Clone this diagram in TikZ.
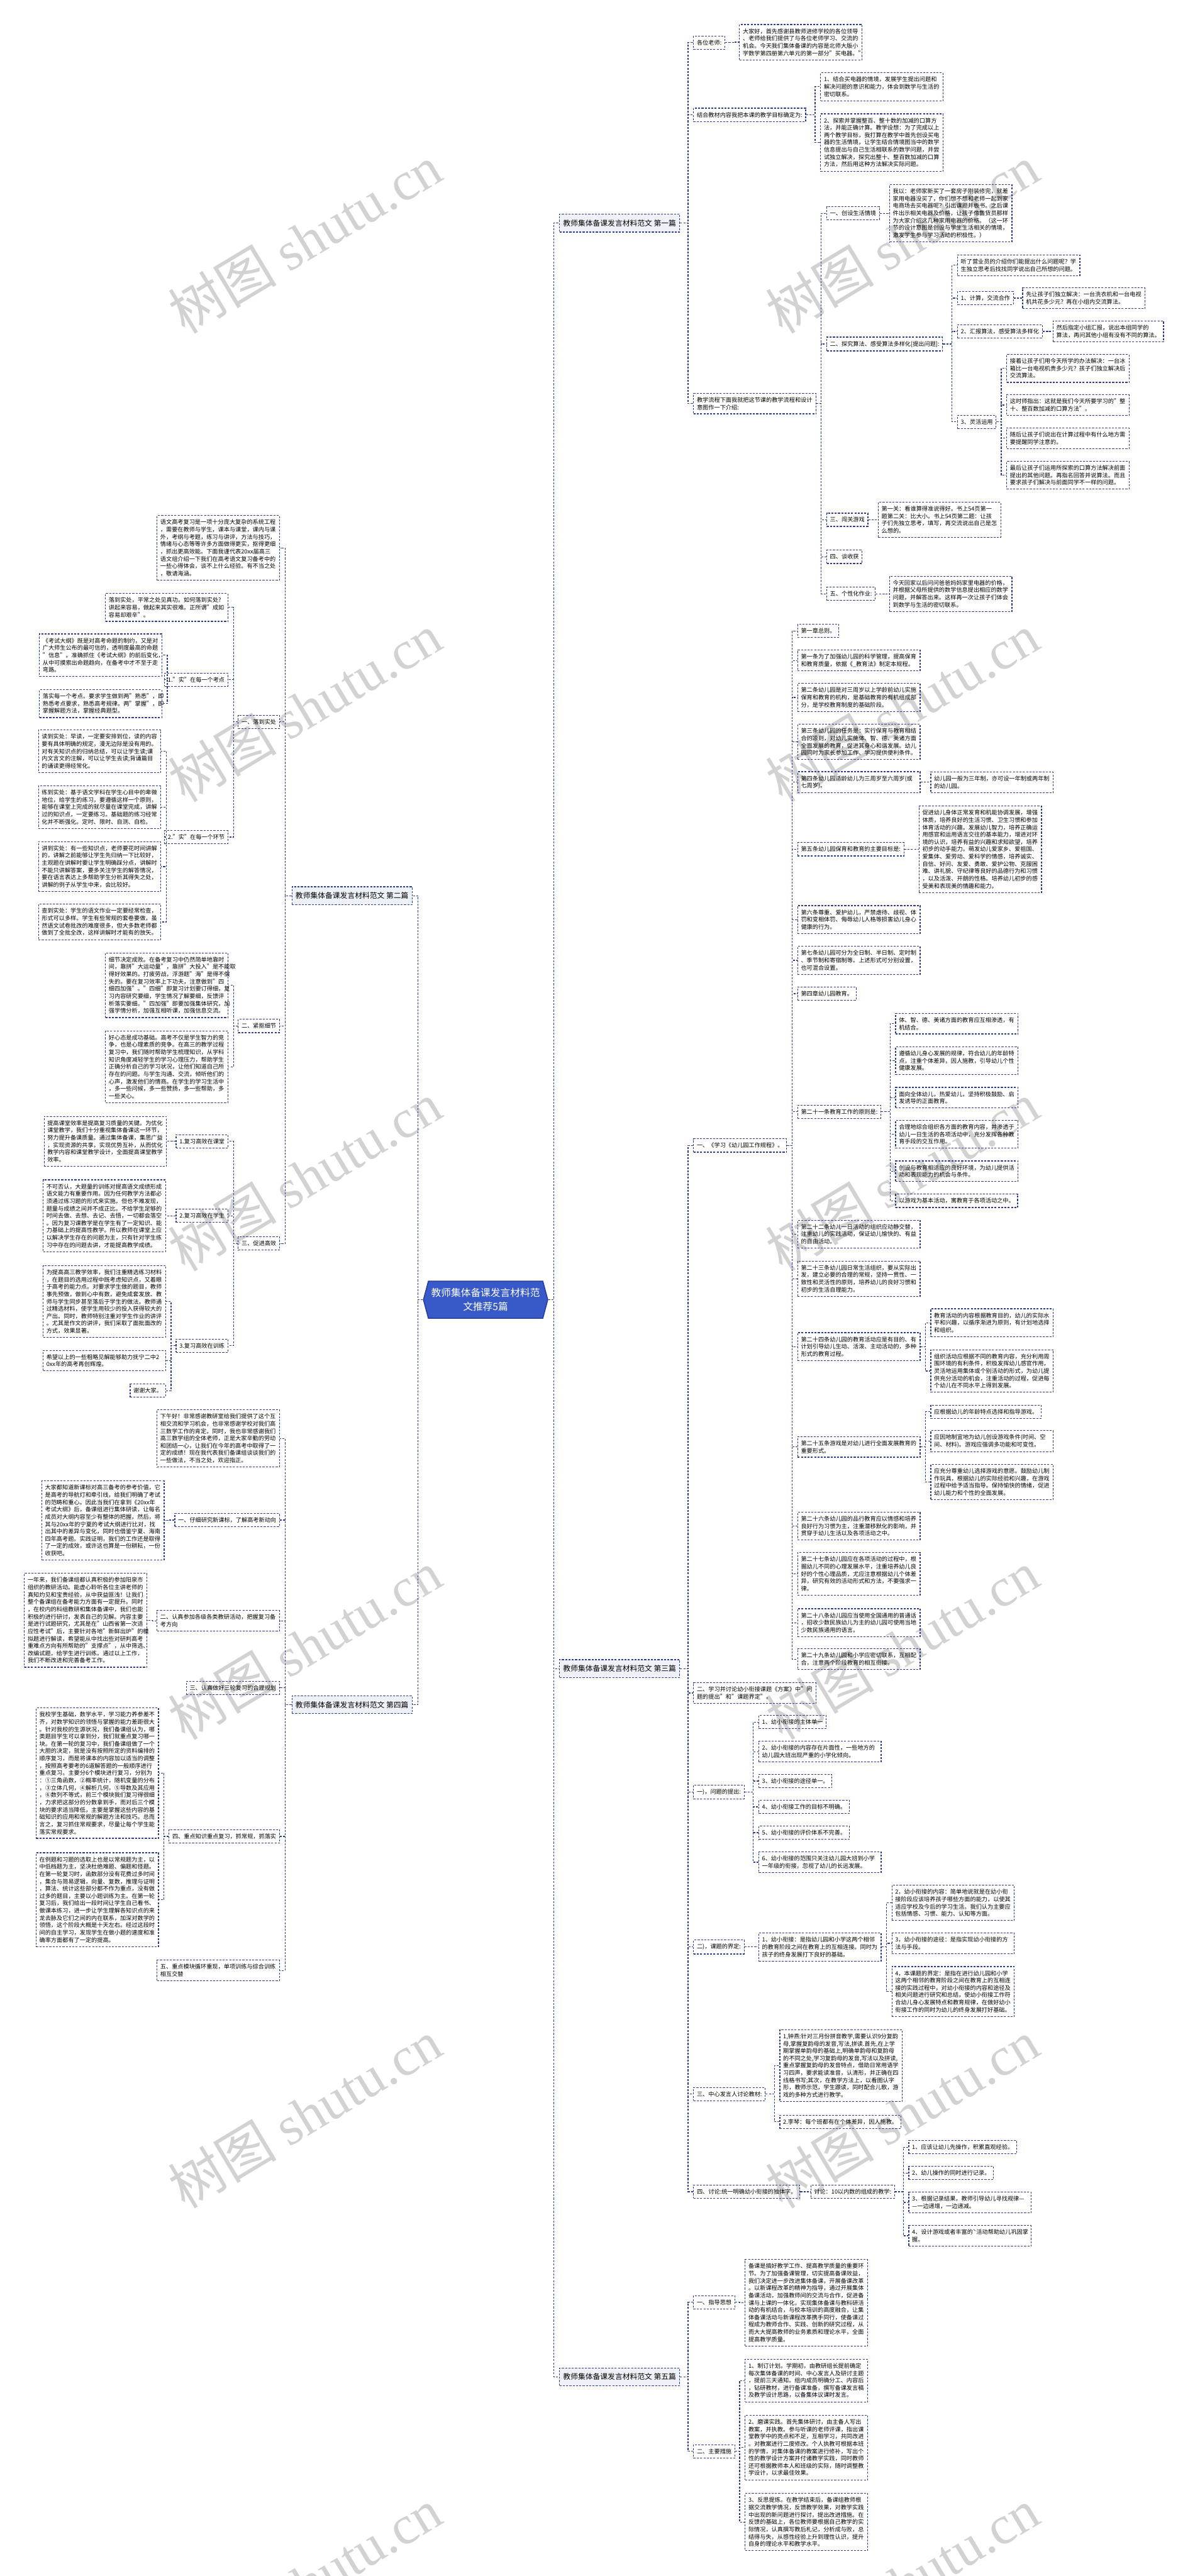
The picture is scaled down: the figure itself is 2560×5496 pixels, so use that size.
\documentclass[tikz,border=0pt]{standalone}
\usepackage{fontspec}
\setmainfont{Noto Sans CJK SC}
\newfontfamily\marklatin{Liberation Serif}
\usepackage{tikz}
\usetikzlibrary{calc,shapes.symbols}
\definecolor{linenavy}{RGB}{45,60,140}
\definecolor{rootblue}{RGB}{55,90,200}
\definecolor{rootedge}{RGB}{38,62,160}
\definecolor{titlefill}{RGB}{238,241,247}
\definecolor{markgray}{RGB}{210,210,210}
\tikzset{
  link/.style={draw=linenavy,line width=0.45pt,dash pattern=on 1.2pt off 0.8pt},
  leaf/.style={draw=linenavy,line width=0.45pt,dash pattern=on 1.2pt off 0.8pt,
    align=left,font=\fontsize{3.5pt}{4.44pt}\selectfont,inner xsep=0.07cm,inner ysep=2.4pt},
  para/.style={leaf,text width=2.47cm},
  leafr/.style={leaf,anchor=west},
  leafl/.style={leaf,anchor=east},
  parar/.style={para,anchor=west},
  paral/.style={para,anchor=east},
  topic/.style={draw=linenavy,line width=0.45pt,dash pattern=on 1.2pt off 0.8pt,fill=titlefill,
    font=\fontsize{4.5pt}{5.5pt}\selectfont,inner xsep=0.077cm,minimum height=0.36cm},
  rootnode/.style={shape=signal,signal to=east and west,signal pointer angle=150,
    fill=rootblue,draw=rootedge,line width=0.6pt,text=white,align=center,
    font=\fontsize{6pt}{8.5pt}\selectfont,inner xsep=0.06cm,minimum height=0.79cm},
  wmark/.style={rotate=31,text=markgray,font=\fontsize{33pt}{33pt}\selectfont}
}

\begin{document}
\begin{tikzpicture}[x=0.01cm,y=-0.01cm]
\useasboundingbox (0,0) rectangle (2560,5496);

% watermarks
\begin{scope}
  \clip (0,0) rectangle (2560,5496);
  \foreach \wy in {510,1510,2510,3510,4510,5510}{
    \node[wmark] (wl\wy) at (650,\wy) {树图 {\marklatin shutu.cn}};
    \node[wmark] (wr\wy) at (1925,\wy) {树图 {\marklatin shutu.cn}};
  }
\end{scope}

\node[rootnode] (root) at (1036,2773) {教师集体备课发言材料范\\文推荐5篇};

% ---- first
\node[topic,anchor=west] (b1) at (1193,476) {教师集体备课发言材料范文 第一篇};
\node[leafr] (g1) at (1479,91) {各位老师:};
\node[parar] (g1a) at (1577,90) {大家好，首先感谢县教师进修学校的各位领导\\、老师给我们提供了与各位老师学习、交流的\\机会。今天我们集体备课的内容是北师大版小\\学数学第四册第六单元的第一部分"买电器。"};
\node[leafr] (g2) at (1479,245) {结合教材内容我把本课的教学目标确定为:};
\node[parar] (g2a) at (1750,185) {1、结合买电器的情境，发展学生提出问题和\\解决问题的意识和能力，体会到数学与生活的\\密切联系。};
\node[parar] (g2b) at (1750,304) {2、探索并掌握整百、整十数的加减的口算方\\法，并能正确计算。教学设想：为了完成以上\\两个教学目标，我打算在教学中首先创设买电\\器的生活情境，让学生结合情境图当中的数学\\信息提出与自己生活相联系的数学问题，并尝\\试独立解决，探究出整十、整百数加减的口算\\方法，然后用这种方法解决实际问题。};
\node[parar] (g3) at (1479,861) {教学流程下面我就把这节课的教学流程和设计\\意图作一下介绍:};
\node[leafr] (s1) at (1763,455) {一、创设生活情境};
\node[parar] (s1a) at (1897,455) {我以：老师家新买了一套房子刚装修完，就差\\家用电器没买了，你们想不想和老师一起到家\\电商场去买电器呢？引出课题并板书。之后课\\件出示相关电器及价格，让孩子像售货员那样\\为大家介绍这几种家用电器的价格。（这一环\\节的设计意图是创设与学生生活相关的情境，\\激发学生参与学习活动的积极性。）};
\node[leafr] (s2) at (1763,734) {二、探究算法、感受算法多样化[提出问题]:};
\node[parar] (s2a) at (2042,566) {听了营业员的介绍你们能提出什么问题呢？学\\生独立思考后找找同学说出自己所想的问题。};
\node[leafr] (s2b) at (2042,636) {1、计算，交流合作};
\node[parar] (s2b1) at (2181,636) {先让孩子们独立解决：一台洗衣机和一台电视\\机共花多少元？再在小组内交流算法。};
\node[leafr] (s2c) at (2042,707) {2、汇报算法，感受算法多样化};
\node[leafr] (s2c1) at (2246,707) {然后指定小组汇报，说出本组同学的\\算法，再问其他小组有没有不同的算法。};
\node[leafr] (s2d) at (2042,900) {3、灵活运用};
\node[parar] (s2d1) at (2147,786) {接着让孩子们用今天所学的办法解决：一台冰\\箱比一台电视机贵多少元？孩子们独立解决后\\交流算法。};
\node[parar] (s2d2) at (2147,864) {这时师指出：这就是我们今天所要学习的"整\\十、整百数加减的口算方法"。};
\node[parar] (s2d3) at (2147,935) {随后让孩子们说出在计算过程中有什么地方需\\要提醒同学注意的。};
\node[parar] (s2d4) at (2147,1014) {最后让孩子们运用所探索的口算方法解决前面\\提出的其他问题。再指名回答并说算法。而且\\要求孩子们解决与前面同学不一样的问题。};
\node[leafr] (s3) at (1763,1109) {三、闯关游戏};
\node[parar] (s3a) at (1873,1109) {第一关：看谁算得准说得好。书上54页第一\\题第二关：比大小。书上54页第二题：让孩\\子们先独立思考，填写，再交流说出自己是怎\\么想的。};
\node[leafr] (s4) at (1763,1188) {四、谈收获};
\node[leafr] (s5) at (1763,1267) {五、个性化作业:};
\node[parar] (s5a) at (1897,1267) {今天回家以后问问爸爸妈妈家里电器的价格，\\并根据父母所提供的数学信息提出相应的数学\\问题，并解答出来。这样再一次让孩子们体会\\到数学与生活的密切联系。};

% ---- third
\node[topic,anchor=west] (b3) at (1193,3560) {教师集体备课发言材料范文 第三篇};
\node[leafr] (c1) at (1479,2444) {一、《学习《幼儿园工作规程》。};
\node[leafr] (c1a) at (1701,1346) {第一章总则。};
\node[parar] (c1b) at (1701,1409) {第一条为了加强幼儿园的科学管理，提高保育\\和教育质量，依据《\_教育法》制定本规程。};
\node[parar] (c1c) at (1701,1488) {第二条幼儿园是对三周岁以上学龄前幼儿实施\\保育和教育的机构，是基础教育的有机组成部\\分，是学校教育制度的基础阶段。};
\node[parar] (c1d) at (1701,1583) {第三条幼儿园的任务是：实行保育与教育相结\\合的凉则，对幼儿实施体、智、德、美诸方面\\全面发展的教育，促进其身心和谐发展。幼儿\\园同时为家长参加工作、学习提供便利条件。};
\node[parar] (c1e) at (1701,1669) {第四条幼儿园适龄幼儿为三周岁至六周岁(或\\七周岁)。};
\node[parar] (c1e1) at (1985,1669) {幼儿园一般为三年制，亦可设一年制或两年制\\的幼儿园。};
\node[leafr] (c1f) at (1701,1812) {第五条幼儿园保育和教育的主要目标是:};
\node[parar] (c1f1) at (1960,1812) {促进幼儿身体正常发育和机能协调发展，增强\\体质，培养良好的生活习惯、卫生习惯和参加\\体育活动的兴趣。发展幼儿智力，培养正确运\\用感官和运用语言交往的基本能力，增进对环\\境的认识，培养有益的兴趣和求知欲望，培养\\初步的动手能力。萌发幼儿爱家乡、爱祖国、\\爱集体、爱劳动、爱科学的情感，培养诚实、\\自信、好问、友爱、勇敢、爱护公物、克服困\\难、讲礼貌、守纪律等良好的品德行为和习惯\\，以及活泼、开朗的性格。培养幼儿初步的感\\受美和表现美的情趣和能力。};
\node[parar] (c1g) at (1701,1962) {第六条尊重、爱护幼儿，严禁虐待、歧视、体\\罚和变相体罚、侮辱幼儿人格等损害幼儿身心\\健康的行为。};
\node[parar] (c1h) at (1701,2049) {第七条幼儿园可分为全日制、半日制、定时制\\、季节制和寄宿制等。上述形式可分别设置，\\也可混合设置。};
\node[leafr] (c1i) at (1701,2120) {第四章幼儿园教育。};
\node[leafr] (c1j) at (1701,2372) {第二十一条教育工作的原则是:};
\node[parar] (c1j1) at (1910,2184) {体、智、德、美诸方面的教育应互相渗透，有\\机结合。};
\node[parar] (c1j2) at (1910,2263) {遵循幼儿身心发展的规律，符合幼儿的年龄特\\点，注重个体差异，因人施教，引导幼儿个性\\健康发展。};
\node[parar] (c1j3) at (1910,2342) {面向全体幼儿，热爱幼儿，坚持积极鼓励、启\\发诱导的正面教育。};
\node[parar] (c1j4) at (1910,2420) {合理地综合组织各方面的教育内容，并渗透于\\幼儿一日生活的各项活动中，充分发挥各种教\\育手段的交互作用。};
\node[parar] (c1j5) at (1910,2499) {创设与教育相适应的良好环境，为幼儿提供活\\动和表现能力的机会与条件。};
\node[leafr] (c1j6) at (1910,2562) {以游戏为基本活动，寓教育于各项活动之中。};
\node[parar] (c1k) at (1701,2633) {第二十二条幼儿一日活动的组织应动静交替，\\注重幼儿的实践活动，保证幼儿愉快的、有益\\的自由活动。};
\node[parar] (c1l) at (1701,2728) {第二十三条幼儿园日常生活组织，要从实际出\\发，建立必要的合理的常规，坚持一贯性、一\\致性和灵活性的原则，培养幼儿的良好习惯和\\初步的生活自理能力。};
\node[parar] (c1m) at (1701,2873) {第二十四条幼儿园的教育活动应是有目的、有\\计划引导幼儿生动、活泼、主动活动的，多种\\形式的教育过程。};
\node[parar] (c1m1) at (1985,2822) {教育活动的内容根据教育目的，幼儿的实际水\\平和兴趣，以循序渐进为原则，有计划地选择\\和组织。};
\node[parar] (c1m2) at (1985,2925) {组织活动应根据不同的教育内容，充分利用周\\围环境的有利条件，积极发挥幼儿感官作用，\\灵活地运用集体或个别活动的形式，为幼儿提\\供充分活动的机会，注重活动的过程，促进每\\个幼儿在不同水平上得到发展。};
\node[parar] (c1n) at (1701,3087) {第二十五条游戏是对幼儿进行全面发展教育的\\重要形式。};
\node[leafr] (c1n1) at (1985,3012) {应根据幼儿的年龄特点选择和指导游戏。};
\node[parar] (c1n2) at (1985,3075) {应因地制宜地为幼儿创设游戏条件(时间、空\\间、材料)。游戏应强调多功能和可变性。};
\node[parar] (c1n3) at (1985,3162) {应充分尊重幼儿选择游戏的意愿。鼓励幼儿制\\作玩具，根据幼儿的实际经验和兴趣，在游戏\\过程中给予适当指导。保持愉快的情绪，促进\\幼儿能力和个性的全面发展。};
\node[parar] (c1o) at (1701,3256) {第二十六条幼儿园的品行教育应以情感和培养\\良好行为习惯为主，注重潜移默化的影响，并\\贯穿于幼儿生活以及各项活动之中。};
\node[parar] (c1p) at (1701,3358) {第二十七条幼儿园应在各项活动的过程中，根\\据幼儿不同的心理发展水平，注重培养幼儿良\\好的个性心理品质，尤应注意根据幼儿个体差\\异，研究有效的活动形式和方法，不要强求一\\律。};
\node[parar] (c1q) at (1701,3462) {第二十八条幼儿园应当使用全国通用的普通话\\，招收少数民族幼儿为主的幼儿园可使用当地\\少数民族通用的语言。};
\node[parar] (c1r) at (1701,3540) {第二十九条幼儿园和小学应密切联系，互相配\\合，注意两个阶段教育的相互衔接。};
\node[parar] (c2) at (1479,3612) {二、学习并讨论幼小衔接课题《方案》中"问\\题的提出"和"课题界定"。};
\node[leafr] (c3) at (1479,3823) {一)，问题的提出:};
\node[leafr] (c3a) at (1618,3674) {1、幼小衔接的主体单一};
\node[parar] (c3b) at (1618,3737) {2、幼小衔接的内容存在片面性，一些地方的\\幼儿园大班出现严重的小学化倾向。};
\node[leafr] (c3c) at (1618,3800) {3、幼小衔接的途径单一。};
\node[leafr] (c3d) at (1618,3855) {4、幼小衔接工作的目标不明确。};
\node[leafr] (c3e) at (1618,3910) {5、幼小衔接的评价体系不完善。};
\node[parar] (c3f) at (1618,3973) {6、幼小衔接的范围只关注幼儿园大班到小学\\一年级的衔接，忽视了幼儿的长远发展。};
\node[leafr] (c4) at (1479,4154) {二)，课题的界定:};
\node[parar] (c4a) at (1618,4154) {1、幼小衔接：是指幼儿园和小学这两个相邻\\的教育阶段之间在教育上的互相连接。同时为\\孩子的终身发展打下良好的基础。};
\node[parar] (c4a1) at (1902,4060) {2，幼小衔接的内容：简单地说就是在幼小衔\\接阶段应该培养孩子哪些方面的能力，以使其\\适应学校及今后的学习生活。我们认为主要应\\包括情感、习惯、能力、认知等方面。};
\node[parar] (c4a2) at (1902,4146) {3，幼小衔接的途径：是指实现幼小衔接的方\\法与手段。};
\node[parar] (c4a3) at (1902,4249) {4，本课题的界定：是指在进行幼儿园和小学\\这两个相邻的教育阶段之间在教育上的互相连\\接的实践过程中，对幼小衔接的内容和途径及\\相关问题进行研究和总结，使幼小衔接工作符\\合幼儿身心发展特点和教育规律，在做好幼小\\衔接工作的同时为幼儿的终身发展打好基础。};
\node[leafr] (c5) at (1479,4468) {三、中心发言人讨论教材:};
\node[parar] (c5a) at (1663,4407) {1,钟燕:针对三月份拼音教学,需要认识9分复韵\\母,掌握复韵母的发音,写法,拼读.首先,在上学\\期掌握单韵母的基础上,明确单韵母和复韵母\\的不同之处,学习复韵母的发音,写法以及拼读,\\重点掌握复韵母的发音特点，借助日常用语学\\习四声，要求能读准音，认清形，并正确在四\\线格书写;其次，在教学方法上，以看图认字\\形，教师示范，学生跟读，同时配合儿歌，游\\戏的多种方式进行教学。};
\node[leafr] (c5b) at (1663,4527) {2.李琴：每个班都有在个体差异，因人施教。};
\node[leafr] (c6) at (1479,4676) {四、讨论:统一明确幼小衔接的独体字。};
\node[leafr] (c6a) at (1729,4676) {讨论：10以内数的组成的教学:};
\node[leafr] (c6a1) at (1938,4581) {1、应该让幼儿先操作，积累直观经验。};
\node[leafr] (c6a2) at (1938,4636) {2、幼儿操作的同时进行记录。};
\node[parar] (c6a3) at (1938,4699) {3、根据记录结果，教师引导幼儿寻找规律—\\—一边递增，一边递减。};
\node[parar] (c6a4) at (1938,4770) {4、设计游戏或者丰富的ˋ活动帮助幼儿巩固掌\\握。};

% ---- fifth
\node[topic,anchor=west] (b5) at (1193,5071) {教师集体备课发言材料范文 第五篇};
\node[leafr] (e1) at (1479,4912) {一、指导思想};
\node[parar] (e1a) at (1589,4913) {备课是搞好教学工作、提高教学质量的重要环\\节。为了加强备课管理，切实提高备课效益，\\我们决定进一步改进集体备课，开展备课改革\\。以新课程改革的精神为指导，通过开展集体\\备课活动，加强教师间的交流与合作，促进备\\课与上课的一体化，实现集体备课与教科研活\\动的有机结合，与校本培训的高度融合，让集\\体备课活动与新课程改革携手同行，使备课过\\程成为教师合作、实践、创新的研究过程，从\\而大大提高教师的业务素质和理论水平，全面\\提高教学质量。};
\node[leafr] (e2) at (1479,5230) {二、主要措施};
\node[parar] (e2a) at (1589,5079) {1、制订计划。学期初，由教研组长提前确定\\每次集体备课的时间、中心发言人及研讨主题\\，提前三天通知。组内成员明确分工、内容后\\，钻研教材，进行备课准备，撰写备课发言稿\\及教学设计思路，以备集体议课时发言。};
\node[parar] (e2b) at (1589,5222) {2、磨课实践。首先集体研讨，由主备人写出\\教案，并执教。参与听课的老师评课，指出课\\堂教学中的亮点和不足，互相学习，共同改进\\。对教案进行二度修改。个人执教可根据本班\\的学情，对集体备课的教案进行修补，写出个\\性的教学设计方案并付诸教学实践，同时教师\\还可根据教师本人和班级的实际，随时调整教\\学设计，以求最佳效果。};
\node[parar] (e2c) at (1589,5381) {3、反思提炼。在教学结束后，备课组教师根\\据交流教学情况，反馈教学效果，对教学实践\\中出现的新问题进行探讨，提出改进措施。在\\反馈的基础上，各位教师要根据自己教学的实\\际情况，认真撰写教后札记，分析成与败，总\\结得与失，从感性经验上升到理性认识，提升\\自身的理论水平和教学水平。};

% ---- second
\node[topic,anchor=east] (b2) at (880,1911) {教师集体备课发言材料范文 第二篇};
\node[paral] (d0) at (597,1169) {语文高考复习是一项十分庞大复杂的系统工程\\，需要在教师与学生，课本与课堂，课内与课\\外，考纲与考题，练习与讲评，方法与技巧，\\情绪与心态等等许多方面做得更实，抠得更细\\，抓出更高效能。下面我谨代表20xx届高三\\语文组介绍一下我们在高考语文复习备考中的\\一些心得体会，谈不上什么经验。有不当之处\\，敬请海涵。};
\node[leafl] (d1) at (597,1540) {一、落到实处};
\node[paral] (d1a) at (487,1296) {落到实处，平常之处见真功。如何落到实处?\\讲起来容易，做起来其实很难。正所谓"成如\\容易却艰辛"。};
\node[leafl] (d1b) at (487,1450) {1."实"在每一个考点};
\node[paral] (d1b1) at (346,1398) {《考试大纲》既是对高考命题的制约，又是对\\广大师生公布的最可信的，透明度最高的命题\\"信息"。准确抓住《考试大纲》的前后变化，\\从中可摸索出命题趋向，在备考中才不至于走\\弯路。};
\node[paral] (d1b2) at (346,1501) {落实每一个考点。要求学生做到两"熟悉"，即\\熟悉考点要求，熟悉高考规律。两"掌握"，即\\掌握解题方法，掌握经典题型。};
\node[leafl] (d1c) at (487,1786) {2."实"在每一个环节};
\node[paral] (d1c1) at (344,1603) {读到实处：早读，一定要安排到位，读的内容\\要有具体明确的规定，漫无边际是没有用的。\\对有关知识点的归纳总结，可以让学生读;课\\内文言文的注解，可以让学生去读;背诵篇目\\的诵读更得经常化。};
\node[paral] (d1c2) at (344,1722) {练到实处：基于语文学科在学生心目中的卑微\\地位，给学生的练习，要遵循这样一个原则，\\能够在课堂上完成的就尽量在课堂完成，讲解\\过的知识点，一定要练习。基础题的练习经常\\化并不断强化。定时、限时、自测、自检。};
\node[paral] (d1c3) at (344,1849) {讲到实处：有一些知识点，老师要花时间讲解\\的，讲解之前能够让学生先归纳一下比较好，\\主观题在讲解时要让学生明确踩分点，讲解时\\不能只讲解答案，要多关注学生的解答情况，\\要在语言表达上多帮助学生分析其得失之处，\\讲解的例子从学生中来，会比较好。};
\node[paral] (d1c4) at (344,1967) {查到实处：学生的语文作业一定要经常检查，\\形式可以多样。学生有些常规的套卷要做，虽\\然语文试卷批改的难度很多，但大多数老师都\\做到了全批全改，这样讲解时才能有的放矢。};
\node[leafl] (d2) at (597,2189) {二、紧抠细节};
\node[paral] (d2a) at (487,2102) {细节决定成败。在备考复习中仍然简单地靠时\\间，靠拼"大运动量"，靠拼"大投入"是不能取\\得好效果的。打疲劳战，浮游题"海"是得不偿\\失的。要在复习效率上下功夫，注意做到"四\\细四加强"。"四细"即复习计划要订得细，复\\习内容研究要细，学生情况了解要细，反馈评\\析落实要细。"四加强"即要加强集体研究，加\\强学情分析，加强互相听课，加强信息交流。};
\node[paral] (d2b) at (487,2276) {好心态是成功基础。高考不仅是学生智力的竞\\争，也是心理素质的竞争。在高三的教学过程\\复习中，我们随时帮助学生梳理知识，从学科\\知识角度减轻学生的学习心理压力，帮助学生\\正确分析自己的学习状况，让他们知道自己所\\存在的问题。与学生沟通、交流，倾听他们的\\心声，激发他们的情商。在学生的学习生活中\\，多一些问候，多一些赞扬，多一些帮助，多\\一些关心。};
\node[leafl] (d3) at (597,2653) {三、促进高效};
\node[leafl] (d3a) at (487,2435) {1.复习高效在课堂};
\node[paral] (d3a1) at (356,2435) {提高课堂效率是提高复习质量的关键。为优化\\课堂教学，我们十分重视集体备课这一环节，\\努力提升备课质量。通过集体备课，集思广益\\，实现资源的共享，实现优势互补，从而优化\\教学内容和课堂教学设计，全面提高课堂教学\\效率。};
\node[leafl] (d3b) at (487,2594) {2.复习高效在学生};
\node[paral] (d3b1) at (354,2594) {不可否认，大题量的训练对提高语文成绩形成\\语文能力有重要作用。因为任何教学方法都必\\须通过练习题的形式来实施。但也不难发现，\\题量与成绩之间并不成正比。不给学生足够的\\时间去做、去想、去记、去悟，一切都会落空\\。因为复习课教学是在学生有了一定知识、能\\力基础上的提高性教学。所以教师在课堂上应\\以解决学生存在的问题为主，只有针对学生练\\习中存在的问题去讲，才能提高教学成绩。};
\node[leafl] (d3c) at (487,2871) {3.复习高效在训练};
\node[paral] (d3c1) at (354,2777) {为提高高三教学效率，我们注重精选练习材料\\，在题目的选用过程中既考虑知识点，又着眼\\于高考的能力点。对要求学生做的题目，教师\\事先预做，做到心中有数，避免成套发放、教\\师与学生同步甚至落后于学生的做法。教师通\\过精选材料，使学生用较少的投入获得较大的\\产出。同时，教师特别注重对学生作业的讲评\\。尤其是作文的讲评，我们采取了面批面改的\\方式，效果显著。};
\node[paral] (d3c2) at (354,2903) {希望以上的一些粗略见解能够助力抚宁二中2\\0xx年的高考再创辉煌。};
\node[leafl] (d3c3) at (354,2967) {谢谢大家。};

% ---- fourth
\node[topic,anchor=east] (b4) at (880,3637) {教师集体备课发言材料范文 第四篇};
\node[paral] (f0) at (597,3069) {下午好！非常感谢教研室给我们提供了这个互\\相交流和学习机会，也非常感谢学校对我们高\\三数学工作的肯定。同时，我也非常感谢我们\\高三数学组的全体老师，正是大家辛勤的劳动\\和团结一心，让我们在今年的高考中取得了一\\定的成绩！现在我代表我们备课组谈谈我们的\\一些做法，不当之处，欢迎指正。};
\node[leafl] (f1) at (597,3243) {一、仔细研究新课标，了解高考新动向};
\node[paral] (f1a) at (351,3244) {大家都知道新课标对高三备考的参考价值，它\\是高考的导航灯和牵引线，给我们明确了考试\\的范畴和重心。因此当我们在拿到《20xx年\\考试大纲》后，备课组进行集体研读，让每名\\成员对大纲内容至少有整体的把握，然后，将\\其与20xx年的宁夏的考试大纲进行比对，找\\出其中的差异与变化，同时也借鉴宁夏、海南\\四年高考题。实践证明，我们的工作还是取得\\了一定的成效，或许这也算是一份耕耘，一份\\收获吧。};
\node[paral] (f2) at (597,3458) {二、认真参加各级各类教研活动，把握复习备\\考方向};
\node[paral] (f2a) at (314,3457) {一年来，我们备课组都认真积极的参加阳泉市\\组织的教研活动。能虚心聆听各位主讲老师的\\真知灼见和宝贵经验，从中获益匪浅！让我们\\整个备课组在备考能力方面有一定提升。同时\\，在校内的科组教研和集体备课中，我们也能\\积极的进行研讨，发表自己的见解。内容主要\\是进行试题研究，尤其是在"山西省第一次适\\应性考试"后，主要针对各地"新鲜出炉"的模\\拟题进行解读，希望能从中找出些对研判高考\\重难点方向有所帮助的"支撑点"，从中筛选、\\改编试题，给学生进行训练。通过以上工作，\\我们不断改进和完善备考工作。};
\node[leafl] (f3) at (597,3601) {三、认真做好三轮复习的合理规划};
\node[leafl] (f4) at (597,3918) {四、重点知识重点复习，抓常规，抓落实};
\node[paral] (f4a) at (339,3783) {我校学生基础，数学水平，学习能力养参差不\\齐，对数学知识的领悟与掌握的能力差距很大\\。针对我校的生源状况，我们备课组认为，哪\\类题目学生可以拿到分，我们就重点复习哪一\\块。在第一轮的复习中，我们备课组做了一个\\大胆的决定，就是没有按照所定的资料编排的\\顺序复习，而是将课本的内容加以适当的调整\\，按照高考要考的6道解答题的一般顺序进行\\重点复习。主要分6个模块进行复习，分别为\\：①三角函数，②概率统计，随机变量的分布\\，③立体几何，④解析几何，⑤导数及其应用\\，⑥数列不等式，前三个模块我们复习得很细\\，力求把这部分的分数拿到手，而对后三个模\\块的要求适当降低，主要是掌握这些内容的基\\础知识的应用和常规的解题方法和技巧。总而\\言之，复习抓住常规要求，尽量让每个学生能\\落实常规要求。};
\node[paral] (f4b) at (339,4053) {在例题和习题的选取上也是以常规题为主，以\\中低档题为主，坚决杜绝难题、偏题和怪题。\\在第一轮复习时，函数部分没有花费过多时间\\，集合与简易逻辑，向量、复数，推理与证明\\，算法、统计这些部分都不作为重点，没有做\\过多的题目，主要以小题训练为主。在第一轮\\复习后，我们给出一段时间让学生自己看书、\\做课本练习，进一步让学生理解各知识点的来\\龙去脉及它们之间的内在联系，加深对数学的\\领悟，这个阶段大概是十天左右。经过这段时\\间的自主学习，发现学生在做小题的速度和准\\确率方面都有了一定的提高。};
\node[paral] (f5) at (597,4204) {五、重点模块循环重现，单项训练与综合训练\\相互交替};

% connectors, right side
\foreach \c in {b1,b3,b5} \draw[link] (root.east) -| ($(\c.west)+(-12,0)$) -- (\c.west);
\foreach \c in {g1,g2,g3} \draw[link] (b1.east) -| ($(\c.west)+(-11,0)$) -- (\c.west);
\foreach \c in {g1a} \draw[link] (g1.east) -| ($(\c.west)+(-11,0)$) -- (\c.west);
\foreach \c in {g2a,g2b} \draw[link] (g2.east) -| ($(\c.west)+(-11,0)$) -- (\c.west);
\foreach \c in {s1,s2,s3,s4,s5} \draw[link] (g3.east) -| ($(\c.west)+(-11,0)$) -- (\c.west);
\foreach \c in {s1a} \draw[link] (s1.east) -| ($(\c.west)+(-11,0)$) -- (\c.west);
\foreach \c in {s2a,s2b,s2c,s2d} \draw[link] (s2.east) -| ($(\c.west)+(-11,0)$) -- (\c.west);
\foreach \c in {s2b1} \draw[link] (s2b.east) -| ($(\c.west)+(-11,0)$) -- (\c.west);
\foreach \c in {s2c1} \draw[link] (s2c.east) -| ($(\c.west)+(-11,0)$) -- (\c.west);
\foreach \c in {s2d1,s2d2,s2d3,s2d4} \draw[link] (s2d.east) -| ($(\c.west)+(-11,0)$) -- (\c.west);
\foreach \c in {s3a} \draw[link] (s3.east) -| ($(\c.west)+(-11,0)$) -- (\c.west);
\foreach \c in {s5a} \draw[link] (s5.east) -| ($(\c.west)+(-11,0)$) -- (\c.west);
\foreach \c in {c1,c2,c3,c4,c5,c6} \draw[link] (b3.east) -| ($(\c.west)+(-11,0)$) -- (\c.west);
\foreach \c in {c1a,c1b,c1c,c1d,c1e,c1f,c1g,c1h,c1i,c1j,c1k,c1l,c1m,c1n,c1o,c1p,c1q,c1r}
  \draw[link] (c1.east) -| ($(\c.west)+(-11,0)$) -- (\c.west);
\foreach \c in {c1e1} \draw[link] (c1e.east) -| ($(\c.west)+(-11,0)$) -- (\c.west);
\foreach \c in {c1f1} \draw[link] (c1f.east) -| ($(\c.west)+(-11,0)$) -- (\c.west);
\foreach \c in {c1j1,c1j2,c1j3,c1j4,c1j5,c1j6} \draw[link] (c1j.east) -| ($(\c.west)+(-11,0)$) -- (\c.west);
\foreach \c in {c1m1,c1m2} \draw[link] (c1m.east) -| ($(\c.west)+(-11,0)$) -- (\c.west);
\foreach \c in {c1n1,c1n2,c1n3} \draw[link] (c1n.east) -| ($(\c.west)+(-11,0)$) -- (\c.west);
\foreach \c in {c3a,c3b,c3c,c3d,c3e,c3f} \draw[link] (c3.east) -| ($(\c.west)+(-11,0)$) -- (\c.west);
\foreach \c in {c4a} \draw[link] (c4.east) -| ($(\c.west)+(-11,0)$) -- (\c.west);
\foreach \c in {c4a1,c4a2,c4a3} \draw[link] (c4a.east) -| ($(\c.west)+(-11,0)$) -- (\c.west);
\foreach \c in {c5a,c5b} \draw[link] (c5.east) -| ($(\c.west)+(-11,0)$) -- (\c.west);
\foreach \c in {c6a} \draw[link] (c6.east) -| ($(\c.west)+(-11,0)$) -- (\c.west);
\foreach \c in {c6a1,c6a2,c6a3,c6a4} \draw[link] (c6a.east) -| ($(\c.west)+(-11,0)$) -- (\c.west);
\foreach \c in {e1,e2} \draw[link] (b5.east) -| ($(\c.west)+(-11,0)$) -- (\c.west);
\foreach \c in {e1a} \draw[link] (e1.east) -| ($(\c.west)+(-11,0)$) -- (\c.west);
\foreach \c in {e2a,e2b,e2c} \draw[link] (e2.east) -| ($(\c.west)+(-11,0)$) -- (\c.west);

% connectors, left side
\foreach \c in {b2,b4} \draw[link] (root.west) -| ($(\c.east)+(12,0)$) -- (\c.east);
\foreach \c in {d0,d1,d2,d3} \draw[link] (b2.west) -| ($(\c.east)+(11,0)$) -- (\c.east);
\foreach \c in {d1a,d1b,d1c} \draw[link] (d1.west) -| ($(\c.east)+(11,0)$) -- (\c.east);
\foreach \c in {d1b1,d1b2} \draw[link] (d1b.west) -| ($(\c.east)+(11,0)$) -- (\c.east);
\foreach \c in {d1c1,d1c2,d1c3,d1c4} \draw[link] (d1c.west) -| ($(\c.east)+(11,0)$) -- (\c.east);
\foreach \c in {d2a,d2b} \draw[link] (d2.west) -| ($(\c.east)+(11,0)$) -- (\c.east);
\foreach \c in {d3a,d3b,d3c} \draw[link] (d3.west) -| ($(\c.east)+(11,0)$) -- (\c.east);
\foreach \c in {d3a1} \draw[link] (d3a.west) -| ($(\c.east)+(11,0)$) -- (\c.east);
\foreach \c in {d3b1} \draw[link] (d3b.west) -| ($(\c.east)+(11,0)$) -- (\c.east);
\foreach \c in {d3c1,d3c2,d3c3} \draw[link] (d3c.west) -| ($(\c.east)+(11,0)$) -- (\c.east);
\foreach \c in {f0,f1,f2,f3,f4,f5} \draw[link] (b4.west) -| ($(\c.east)+(11,0)$) -- (\c.east);
\foreach \c in {f1a} \draw[link] (f1.west) -| ($(\c.east)+(11,0)$) -- (\c.east);
\foreach \c in {f2a} \draw[link] (f2.west) -| ($(\c.east)+(11,0)$) -- (\c.east);
\foreach \c in {f4a,f4b} \draw[link] (f4.west) -| ($(\c.east)+(11,0)$) -- (\c.east);

\end{tikzpicture}
\end{document}
